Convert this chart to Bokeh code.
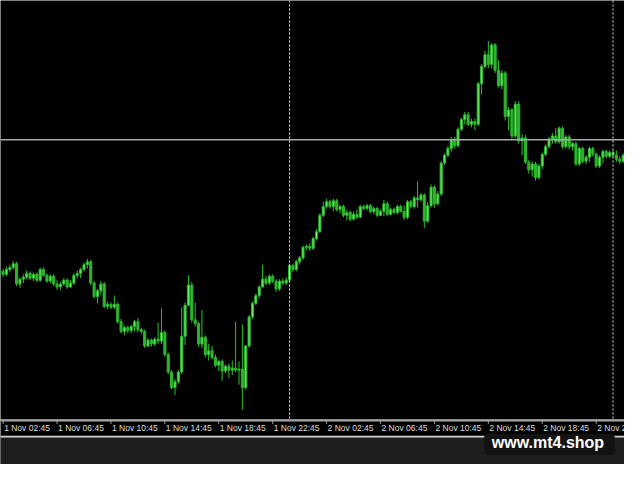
from bokeh.plotting import figure
from bokeh.models import Range1d, Span, BoxAnnotation, Label, ColumnDataSource
from bokeh.layouts import column
from bokeh.embed import file_html
from bokeh.resources import INLINE
from bokeh.core.properties import value
import pandas as pd

# ---------------- data (M15 candles, price in points) ----------------
start_time = "2023-11-01 02:30"
n_candles = 186

open_pts = [151,153,150,155,157,161,140,145,147,151, 146,150,144,155,149,143,148,140,137,140,
            144,137,141,149,151,155,160,163,141,127, 133,140,117,119,116,119,101,91,95,92,
            96,101,93,91,76,82,78,83,81,90, 67,49,33,39,49,86,118,139,103,99,
            78,85,67,71,64,56,60,50,55,51, 53,51,52,33,76,106,120,128,137,145,
            141,148,143,135,143,141,144,159,155,163, 167,178,179,177,187,194,211,220,225,220,
            226,217,220,211,214,207,212,209,220,218, 221,215,218,211,215,223,212,217,214,220,
            215,209,225,220,229,227,232,205,221,240, 223,233,265,273,280,289,283,300,310,315,
            305,308,305,347,365,377,367,387,361,345, 358,313,320,293,326,288,291,266,258,264,
            250,262,274,282,290,293,287,301,282,292, 282,285,264,280,267,271,280,274,262,271,
            277,272,276,273,269,267]

close_pts = [153,150,155,157,161,140,145,147,151,146, 150,144,155,149,143,148,140,137,140,144,
             137,141,149,151,155,160,163,141,127,133, 140,117,119,116,119,101,91,95,92,96,
             101,93,91,76,82,78,83,81,90,67, 49,33,39,49,86,118,139,103,99,78,
             85,67,71,64,56,60,50,55,51,53, 51,52,33,76,106,120,128,137,145,141,
             148,143,135,143,141,144,159,155,163,167, 178,179,177,187,194,211,220,225,220,226,
             217,220,211,214,207,212,209,220,218,221, 215,218,211,215,223,212,217,214,220,215,
             209,225,220,229,227,232,205,221,240,223, 233,265,273,280,289,283,300,310,315,305,
             308,305,347,365,377,367,387,361,345,358, 313,320,293,326,288,291,266,258,264,250,
             262,274,282,290,293,287,301,282,292,282, 285,264,280,267,271,280,274,262,271,277,
             272,276,273,269,267,273]

high_pts = [157,156,158,160,164,163,147,150,154,153, 152,152,157,157,151,150,150,144,142,146,
            146,144,151,154,157,162,166,165,143,135, 143,142,122,121,128,121,104,97,97,98,
            103,105,95,93,84,84,85,100,115,92, 69,51,42,51,116,121,149,142,121,101,
            113,87,78,76,67,62,62,57,58,61, 101,60,98,77,108,122,130,139,160,148,
            150,150,145,145,146,147,161,161,165,169, 180,181,182,189,197,213,225,228,227,228,
            228,222,222,217,216,215,217,222,222,223, 223,220,220,217,227,225,219,219,222,222,
            221,227,227,231,246,234,234,225,243,242, 236,267,275,283,292,292,302,312,318,318,
            311,311,349,367,381,391,389,389,371,361, 360,323,322,329,329,295,294,268,267,266,
            264,276,284,292,296,301,303,303,294,294, 287,287,282,282,273,282,282,276,273,279,
            279,278,278,278,272,275]

low_pts = [148,147,148,152,155,138,136,141,145,144, 143,142,142,147,141,141,138,134,134,138,
           135,136,139,146,146,153,156,139,125,120, 129,115,114,114,114,99,89,87,89,89,
           91,90,88,74,75,75,76,78,78,65, 47,31,25,37,47,77,117,100,96,75,
           74,64,61,62,54,50,40,48,43,46, 49,36,10,31,74,104,118,125,136,139,
           139,141,132,133,139,139,141,152,153,160, 165,175,174,175,185,193,209,218,218,215,
           215,213,209,206,205,206,207,208,216,216, 213,212,209,210,210,210,211,212,212,214,
           206,207,218,218,219,225,198,203,219,219, 221,231,263,271,277,280,281,298,305,303,
           302,299,303,336,363,363,363,358,343,341, 309,299,290,291,285,273,264,254,251,247,
           248,259,272,280,285,285,285,280,280,279, 278,262,262,265,264,266,272,260,260,265,
           270,270,271,266,264,265]

tick_labels = ["1 Nov 02:45", "1 Nov 06:45", "1 Nov 10:45", "1 Nov 14:45",
               "1 Nov 18:45", "1 Nov 22:45", "2 Nov 02:45", "2 Nov 06:45",
               "2 Nov 10:45", "2 Nov 14:45", "2 Nov 18:45", "2 Nov 22:45"]

hline_level = 289
watermark = "www.mt4.shop"

# ---------------- derived ----------------
times = pd.date_range(start_time, periods=n_candles, freq="15min")
fmt = [f"{t.day} {t.strftime('%b')} {t.strftime('%H:%M')}" for t in times]
tick_idx = [fmt.index(l) for l in tick_labels]
separators = [i for i, t in enumerate(times) if t.hour == 0 and t.minute == 0]

idx = list(range(n_candles))
bull = [c >= o for o, c in zip(open_pts, close_pts)]
src = ColumnDataSource(dict(
    x=idx,
    high=high_pts, low=low_pts,
    top=[max(o, c) for o, c in zip(open_pts, close_pts)],
    bottom=[min(o, c) for o, c in zip(open_pts, close_pts)],
    fill=["#63ea63" if b else "#34b034" for b in bull],
))

W = 624
PX_STEP = 3.456          # reference pixels per candle
PX_OFF = -0.76           # reference pixel of candle 0
def px2i(px):
    return (px - PX_OFF) / PX_STEP

xr = Range1d(px2i(0), px2i(640))

# ---------------- main chart ----------------
p = figure(width=W, height=419, x_range=xr, y_range=Range1d(0, 433),
           x_axis_type=None, y_axis_type=None, output_backend="svg",
           toolbar_location=None, background_fill_color="black",
           border_fill_color="black", min_border=0, outline_line_color=None)

p.segment(x0="x", y0="low", x1="x", y1="high", source=src,
          line_color="#2fbf2f", line_width=1)
p.vbar(x="x", width=0.62, top="top", bottom="bottom", source=src,
       fill_color="fill", line_color="#2cb82c", line_width=1)

p.add_layout(Span(location=hline_level, dimension="width",
                  line_color="#a8a8a8", line_width=1.5))
for s in separators:
    p.add_layout(Span(location=s, dimension="height", line_color="#e6e6e6",
                      line_width=1, line_dash="2 2"))

# ---------------- time scale + bottom band ----------------
p2 = figure(width=W, height=45, x_range=xr, y_range=Range1d(480, 433),
            x_axis_type=None, y_axis_type=None, output_backend="svg",
            toolbar_location=None, background_fill_color="black",
            border_fill_color="black", min_border=0, outline_line_color=None)

# axis line
p2.add_layout(BoxAnnotation(top=433, bottom=435, fill_color="#a6a6a6",
                            fill_alpha=1, line_color=None))
# ticks
p2.segment(x0=tick_idx, y0=[434] * len(tick_idx), x1=tick_idx,
           y1=[437.5] * len(tick_idx), line_color="#a6a6a6", line_width=1)
# tick labels (left-aligned at tick, as in MT4)
lbl_src = ColumnDataSource(dict(x=tick_idx, y=[441.5] * len(tick_idx), text=tick_labels))
p2.text(x="x", y="y", text="text", source=lbl_src, text_align="left",
        text_baseline="middle", x_offset=1,
        text_font=value("Liberation Sans"), text_font_size="8.5px",
        text_color="#dedede")

# light separator line and dark status band
p2.add_layout(BoxAnnotation(top=450, bottom=452, fill_color="#d2d2d2",
                            fill_alpha=1, line_color=None))
p2.add_layout(BoxAnnotation(top=452, bottom=480, fill_color="#1e1e1e",
                            fill_alpha=1, line_color=None))
# watermark box
p2.add_layout(BoxAnnotation(left=px2i(496), right=px2i(630), top=448, bottom=470,
                            fill_color="#121212", fill_alpha=1, line_color=None,
                            border_radius=4))
p2.add_layout(Label(x=px2i(561.5), y=456.5, text=watermark, text_align="center",
                    text_baseline="middle", text_font_style="bold",
                    text_font_size="16px", text_color="white",
                    text_font="Liberation Sans"))

layout = column(p, p2, spacing=0)
open("out.html", "w").write(file_html(layout, INLINE))
